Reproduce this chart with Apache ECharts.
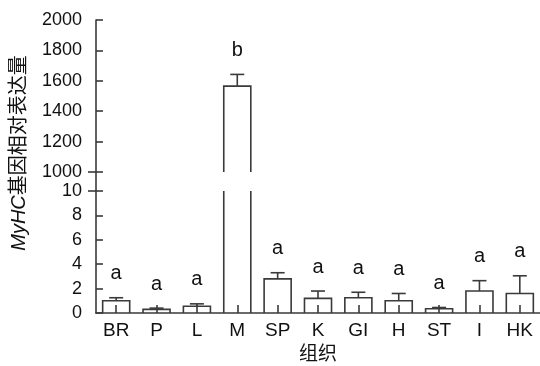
<!DOCTYPE html>
<html>
<head>
<meta charset="utf-8">
<script src="https://cdn.jsdelivr.net/npm/echarts@6/dist/echarts.min.js"></script>
<style>
  html, body { margin: 0; padding: 0; background: #fff; }
  #chart { width: 540px; height: 366px; }
</style>
</head>
<body>
<div id="chart"></div>
<script>
// tissue categories and relative MyHC expression (mean, error)
var categories = ["BR", "P", "L", "M", "SP", "K", "GI", "H", "ST", "I", "HK"];
var means = [1.0, 0.3, 0.55, 1565, 2.8, 1.2, 1.25, 1.0, 0.35, 1.8, 1.6];
var errors = [0.25, 0.1, 0.2, 77, 0.5, 0.6, 0.45, 0.6, 0.1, 0.85, 1.45];
var letters = ["a", "a", "a", "b", "a", "a", "a", "a", "a", "a", "a"];

// broken y axis: upper and lower parts
var upperAxis = { min: 1000, max: 2000, interval: 200 };
var lowerAxis = { min: 0, max: 10, interval: 2 };

var FONT = '"Liberation Sans", Arial, "Noto Sans CJK SC", sans-serif';
var LINE = "#3a3a3a";
var TEXT = "#111";

var rows = categories.map(function (c, i) {
  return [i, means[i], errors[i]];
});
var upperRows = rows.filter(function (r) {
  return r[1] >= upperAxis.min;
});

function renderBar(params, api) {
  var i = api.value(0);
  var m = api.value(1);
  var e = api.value(2);
  var cs = params.coordSys;
  var c = api.coord([i, m]);
  var base = api.coord([i, 0]);
  var w = api.size([1, 0])[0] * 0.67;
  var x0 = c[0] - w / 2;
  var x1 = c[0] + w / 2;
  var yBottom = cs.y + cs.height;
  var yb = Math.min(base[1], yBottom);
  var stroke = { stroke: LINE, lineWidth: 1.6, fill: null };
  var children = [];
  if (c[1] < cs.y) {
    // bar runs past the top of this panel: sides only
    children.push({ type: "line", shape: { x1: x0, y1: yb, x2: x0, y2: cs.y }, style: stroke });
    children.push({ type: "line", shape: { x1: x1, y1: yb, x2: x1, y2: cs.y }, style: stroke });
    return { type: "group", children: children };
  }
  children.push({
    type: "polyline",
    shape: { points: [[x0, yb], [x0, c[1]], [x1, c[1]], [x1, yb]] },
    style: stroke,
  });
  var top = api.coord([i, m + e])[1];
  children.push({ type: "line", shape: { x1: c[0], y1: c[1], x2: c[0], y2: top }, style: stroke });
  children.push({ type: "line", shape: { x1: c[0] - 7, y1: top, x2: c[0] + 7, y2: top }, style: stroke });
  children.push({
    type: "text",
    style: {
      text: letters[i],
      x: c[0],
      y: top - 14,
      align: "center",
      verticalAlign: "bottom",
      fontSize: 20,
      fontFamily: FONT,
      fill: TEXT,
    },
  });
  return { type: "group", children: children };
}

var axisLine = { show: true, onZero: false, lineStyle: { color: LINE, width: 1.6 } };
var axisLabel = {
  fontSize: 18,
  color: TEXT,
  fontFamily: FONT,
  margin: 14,
  formatter: function (v) {
    return String(v);
  },
};
var tickStyle = { color: LINE, width: 1.6 };

var chart = echarts.init(document.getElementById("chart"));
chart.setOption({
  animation: false,
  backgroundColor: "#fff",
  grid: [
    { left: 96, width: 444, top: 20, height: 152 },
    { left: 96, width: 444, top: 172, height: 19 },
    { left: 96, width: 444, top: 191, height: 122 },
  ],
  xAxis: [
    { gridIndex: 0, type: "category", data: categories, show: false },
    { gridIndex: 1, type: "category", data: categories, show: false },
    {
      gridIndex: 2,
      type: "category",
      data: categories,
      axisLine: axisLine,
      axisTick: { show: true, inside: true, length: 8, alignWithLabel: true, lineStyle: tickStyle },
      axisLabel: { fontSize: 19, color: TEXT, fontFamily: FONT, margin: 8 },
      name: "组织",
      nameLocation: "middle",
      nameGap: 32,
      nameTextStyle: { fontSize: 19, color: TEXT, fontFamily: FONT },
    },
  ],
  yAxis: [
    {
      gridIndex: 0,
      type: "value",
      min: upperAxis.min,
      max: upperAxis.max,
      interval: upperAxis.interval,
      axisLine: axisLine,
      axisTick: { show: true, inside: true, length: 7, lineStyle: tickStyle },
      axisLabel: axisLabel,
      splitLine: { show: false },
    },
    {
      gridIndex: 1,
      type: "value",
      min: 0,
      max: 1,
      interval: 1,
      axisLine: axisLine,
      axisTick: { show: true, inside: false, length: 8, lineStyle: tickStyle },
      axisLabel: { show: false },
      splitLine: { show: false },
    },
    {
      gridIndex: 2,
      type: "value",
      min: lowerAxis.min,
      max: lowerAxis.max,
      interval: lowerAxis.interval,
      axisLine: axisLine,
      axisTick: { show: true, inside: true, length: 7, lineStyle: tickStyle },
      axisLabel: axisLabel,
      splitLine: { show: false },
    },
  ],
  graphic: [
    {
      type: "text",
      x: 19,
      y: 153,
      rotation: Math.PI / 2,
      style: {
        text: "{i|MyHC}基因相对表达量",
        align: "center",
        verticalAlign: "middle",
        fontSize: 20,
        fontFamily: FONT,
        fill: TEXT,
        rich: {
          i: { fontStyle: "italic", fontSize: 20, fontFamily: FONT, fill: TEXT },
        },
      },
    },
  ],
  series: [
    {
      type: "custom",
      xAxisIndex: 0,
      yAxisIndex: 0,
      data: upperRows,
      encode: { x: 0, y: 1 },
      renderItem: renderBar,
    },
    {
      type: "custom",
      xAxisIndex: 2,
      yAxisIndex: 2,
      data: rows,
      encode: { x: 0, y: 1 },
      renderItem: renderBar,
    },
  ],
});
</script>
</body>
</html>
